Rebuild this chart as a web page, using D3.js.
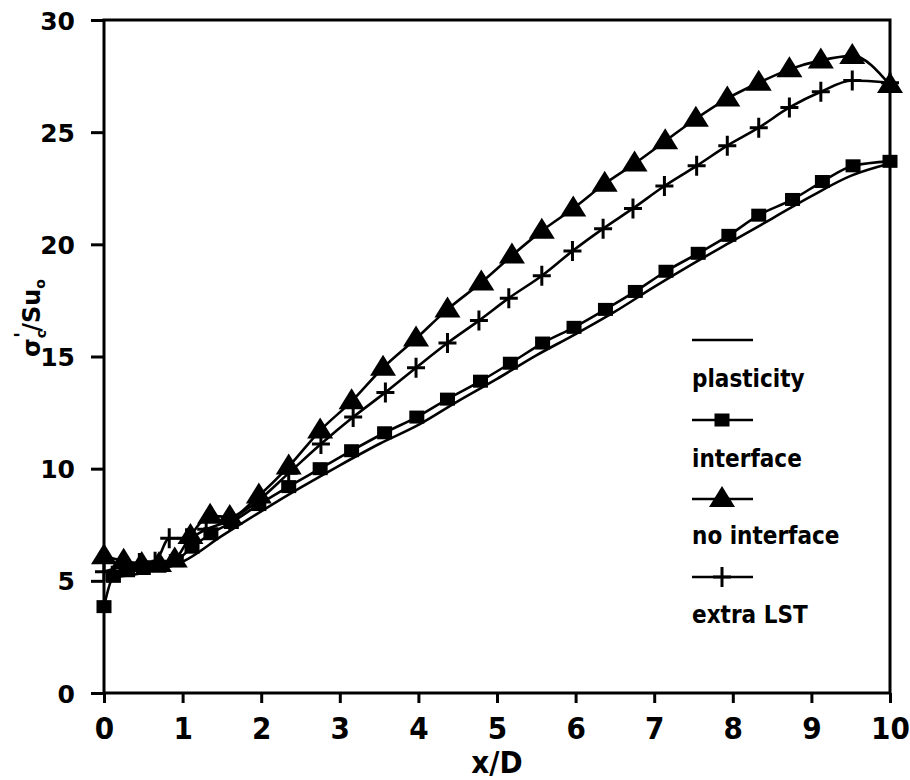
<!DOCTYPE html>
<html><head><meta charset="utf-8">
<script src="https://cdn.jsdelivr.net/npm/d3@7"></script>
<style>body{margin:0;background:#fff}</style>
</head><body><svg id="c" width="910" height="780"></svg>
<script>
const xTicks = [0,1,2,3,4,5,6,7,8,9,10];
const yTicks = [0,5,10,15,20,25,30];
const legendLabels = ["plasticity","interface","no interface","extra LST"];

const plasticityX = [0.1,0.5,1,1.5,2,2.5,3,3.5,4,4.5,5,5.5,6,6.5,7,7.5,8,8.5,9,9.5,10];
const plasticityY = [5.15,5.35,5.85,7.0,8.1,9.15,10.15,11.1,11.95,13.0,14.0,15.05,16.0,17.0,18.1,19.15,20.15,21.15,22.15,23.05,23.6];

const interfaceX = [0,0.12,0.3,0.5,0.7,0.92,1.12,1.36,1.62,1.97,2.35,2.75,3.15,3.57,3.98,4.37,4.79,5.17,5.58,5.98,6.38,6.76,7.15,7.56,7.95,8.33,8.76,9.14,9.53,10];
const interfaceY = [3.85,5.2,5.45,5.55,5.65,5.9,6.5,7.1,7.6,8.4,9.2,10.0,10.8,11.6,12.3,13.1,13.9,14.7,15.6,16.3,17.1,17.9,18.8,19.6,20.4,21.3,22.0,22.8,23.5,23.7];

const noInterfaceX = [0,0.25,0.48,0.7,0.9,1.1,1.35,1.6,1.97,2.35,2.75,3.15,3.55,3.97,4.37,4.8,5.19,5.57,5.97,6.37,6.75,7.14,7.53,7.93,8.33,8.72,9.12,9.52,10];
const noInterfaceY = [6.1,5.9,5.75,5.75,5.95,7.0,7.9,7.85,8.8,10.1,11.7,13.0,14.5,15.8,17.1,18.3,19.5,20.6,21.6,22.7,23.6,24.6,25.6,26.5,27.2,27.8,28.2,28.4,27.1];

const extraX = [0,0.2,0.45,0.65,0.83,1.05,1.3,1.6,1.97,2.35,2.76,3.17,3.58,3.97,4.37,4.77,5.15,5.57,5.96,6.35,6.73,7.13,7.54,7.93,8.33,8.72,9.12,9.52,10];
const extraY = [5.4,5.6,5.8,5.85,6.9,6.9,7.3,7.7,8.6,9.8,11.1,12.3,13.4,14.5,15.6,16.6,17.6,18.6,19.7,20.7,21.6,22.6,23.5,24.4,25.2,26.1,26.8,27.3,27.2];

const svg = d3.select("#c");
const L = 104, R = 890, T = 20, B = 693;
const x = d3.scaleLinear().domain([0,10]).range([L,R]);
const y = d3.scaleLinear().domain([0,30]).range([B,T]);

// axes
const gx = svg.append("g").attr("transform",`translate(0,${B})`)
  .call(d3.axisBottom(x).tickValues(xTicks).tickSize(10).tickSizeOuter(0).tickPadding(14).tickFormat(d3.format("d")));
const gy = svg.append("g").attr("transform",`translate(${L},0)`)
  .call(d3.axisLeft(y).tickValues(yTicks).tickSize(13).tickSizeOuter(0).tickPadding(16).tickFormat(d3.format("d")));
[gx,gy].forEach(g=>{ g.select(".domain").remove(); g.selectAll(".tick line").attr("stroke","#000").attr("stroke-width",3); });
gx.selectAll(".tick text").attr("fill","#000").style("font-family","'Liberation Sans Narrow','DejaVu Sans Condensed',sans-serif").style("font-weight","bold").style("font-size","31px");
gy.selectAll(".tick text").attr("fill","#000").style("font-family","'DejaVu Sans',sans-serif").style("font-weight","bold").style("font-size","25px").attr("dy","0.36em");

// frame
svg.append("rect").attr("x",L).attr("y",T).attr("width",R-L).attr("height",B-T)
  .attr("fill","none").attr("stroke","#000").attr("stroke-width",3);

// axis titles
svg.append("text").attr("x",(L+R)/2).attr("y",773).attr("text-anchor","middle")
  .style("font-family","'Liberation Sans Narrow','DejaVu Sans Condensed',sans-serif").style("font-weight","bold").style("font-size","31px").text("x/D");
const yl = svg.append("text").attr("transform","translate(40,318) rotate(-90)").attr("text-anchor","middle")
  .style("font-family","'DejaVu Sans',sans-serif").style("font-weight","bold").style("font-size","24px");
yl.append("tspan").text("σ");
yl.append("tspan").attr("dy",6).style("font-size","14px").text("c");
yl.append("tspan").attr("dx",-8).attr("dy",-18).style("font-size","20px").text("'");
yl.append("tspan").attr("dy",12).text("/Su");
yl.append("tspan").attr("dy",5).style("font-size","14px").text("o");

const line = d3.line().curve(d3.curveMonotoneX);
function drawLine(xs, ys){
  svg.append("path").attr("d", line(xs.map((v,i)=>[x(v), y(ys[i])])))
    .attr("fill","none").attr("stroke","#000").attr("stroke-width",2.6);
}
function square(g,cx,cy){ g.append("rect").attr("x",cx-7.5).attr("y",cy-6.5).attr("width",15).attr("height",13).attr("fill","#000"); }
function tri(g,cx,cy){ g.append("path").attr("d",`M${cx},${cy-13}L${cx+13},${cy+8}L${cx-13},${cy+8}Z`).attr("fill","#000"); }
function plus(g,cx,cy){ g.append("path").attr("d",`M${cx-9},${cy}H${cx+9}M${cx},${cy-10}V${cy+10}`).attr("stroke","#000").attr("stroke-width",3).attr("fill","none"); }

drawLine(plasticityX, plasticityY);
drawLine(interfaceX, interfaceY);
drawLine(extraX, extraY);
drawLine(noInterfaceX, noInterfaceY);

const gm = svg.append("g");
interfaceX.forEach((v,i)=>square(gm, x(v), y(interfaceY[i])));
extraX.forEach((v,i)=>plus(gm, x(v), y(extraY[i])));
noInterfaceX.forEach((v,i)=>tri(gm, x(v), y(noInterfaceY[i])));

// legend
const lx0 = 692, lx1 = 753, lc = 722;
const lineYs = [340, 420, 499, 577];
const textYs = [387, 467, 544, 623];
const markers = [null, square, tri, plus];
legendLabels.forEach((lab,i)=>{
  svg.append("line").attr("x1",lx0).attr("x2",lx1).attr("y1",lineYs[i]).attr("y2",lineYs[i]).attr("stroke","#000").attr("stroke-width",2.6);
  if (markers[i]) markers[i](svg, lc, lineYs[i]);
  svg.append("text").attr("x",lx0).attr("y",textYs[i])
    .style("font-family","'DejaVu Sans Condensed','DejaVu Sans',sans-serif").style("font-weight","bold").style("font-size","24px").text(lab);
});
</script></body></html>
